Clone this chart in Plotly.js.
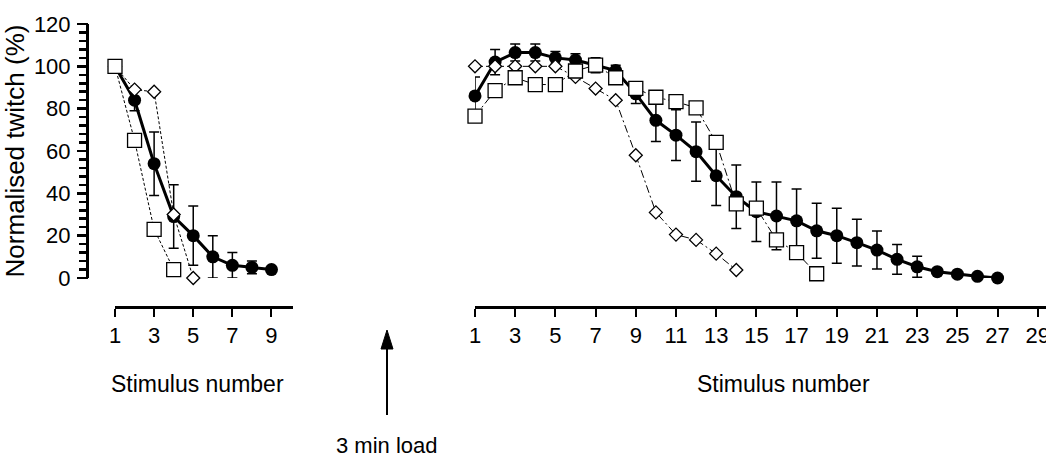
<!DOCTYPE html>
<html>
<head>
<meta charset="utf-8">
<script src="https://cdn.plot.ly/plotly-3.0.1.min.js"></script>
<style>html,body{margin:0;padding:0;background:#fff;}#chart{width:1046px;height:458px;}</style>
</head>
<body>
<div id="chart"></div>
<script>
// ---- Data ----
const leftX = [1, 2, 3, 4, 5, 6, 7, 8, 9];
const leftMean = [100, 84, 54, 29, 20, 10, 6, 5, 4];
const leftErr = [0, 5, 15, 15, 14, 10, 6, 3, 0];
const leftSquareX = [1, 2, 3, 4];
const leftSquare = [100, 65, 23, 4];
const leftDiamondX = [1, 2, 3, 4, 5];
const leftDiamond = [100, 89, 88, 30, 0];

const rightX = [1,2,3,4,5,6,7,8,9,10,11,12,13,14,15,16,17,18,19,20,21,22,23,24,25,26,27];
const rightMean = [86, 102, 106.5, 106.5, 104, 103, 100.5, 98, 87, 74.5, 67.5, 59.7, 48.3, 38.4, 31.3, 29.3, 27, 22.3, 20, 16.7, 13.2, 8.8, 5.3, 3, 1.8, 0.8, 0];
const rightErr = [9, 6, 4, 4, 3, 3, 3.5, 2.5, 4.5, 10, 12, 14, 14, 15, 14, 16, 15, 13, 13, 11, 9, 7, 5, 0, 0, 0, 0];
const rightSquareX = [1,2,3,4,5,6,7,8,9,10,11,12,13,14,15,16,17,18];
const rightSquare = [76.5, 88.5, 94.6, 91.4, 91.4, 97.8, 100.6, 94.6, 89.6, 85.4, 83.3, 80.4, 64.1, 35, 33, 18, 12, 2];
const rightDiamondX = [1,2,3,4,5,6,7,8,9,10,11,12,13,14];
const rightDiamond = [100, 100, 100, 100, 100, 95, 89.5, 84, 58, 31, 20.5, 18, 11.5, 3.8];

const leftTicks = [1, 3, 5, 7, 9];
const rightTicks = [1,3,5,7,9,11,13,15,17,19,21,23,25,27,29];
const yMajorTicks = [0, 20, 40, 60, 80, 100, 120];
const yMinorTicks = [0,4,8,12,16,20,24,28,32,36,40,44,48,52,56,60,64,68,72,76,80,84,88,92,96,100,104,108,112,116,120];

const FONT = 'Liberation Sans, Arial, Helvetica, sans-serif';
const W = 1046, H = 458;
const px = v => v / W;
const py = v => (H - v) / H;

function meanTrace(x, y, err, xa) {
  return {x: x, y: y, xaxis: xa, yaxis: 'y', type: 'scatter', mode: 'lines+markers',
    line: {color: '#000', width: 3},
    marker: {symbol: 'circle', size: 13, color: '#000'},
    error_y: {type: 'data', array: err, visible: true, color: '#000', thickness: 1.5, width: 5},
    cliponaxis: false, showlegend: false, hoverinfo: 'x+y'};
}
function openTrace(x, y, xa, sym, size, dash) {
  return {x: x, y: y, xaxis: xa, yaxis: 'y', type: 'scatter', mode: 'lines+markers',
    line: {color: '#000', width: 1, dash: dash},
    marker: {symbol: sym, size: size, color: '#fff', line: {color: '#000', width: 1.3}},
    cliponaxis: false, showlegend: false, hoverinfo: 'x+y'};
}

const data = [
  {x: [], y: [], xaxis: 'x3', yaxis: 'y', type: 'scatter', mode: 'markers', showlegend: false, hoverinfo: 'skip'},
  {x: [], y: [], xaxis: 'x3', yaxis: 'y2', type: 'scatter', mode: 'markers', showlegend: false, hoverinfo: 'skip'},
  meanTrace(leftX, leftMean, leftErr, 'x'),
  openTrace(leftDiamondX, leftDiamond, 'x', 'diamond', 10, '3px,2px'),
  openTrace(leftSquareX, leftSquare, 'x', 'square', 14, '3px,2px'),
  meanTrace(rightX, rightMean, rightErr, 'x2'),
  openTrace(rightDiamondX, rightDiamond, 'x2', 'diamond', 10, '8px,3px,2px,3px'),
  openTrace(rightSquareX, rightSquare, 'x2', 'square', 14, '8px,3px,2px,3px')
];

const xCommon = {
  anchor: 'free', position: py(307), showgrid: false, zeroline: false,
  showline: true, linecolor: '#000', linewidth: 3,
  ticks: 'outside', ticklen: 8, tickwidth: 2, tickcolor: '#000',
  tickmode: 'array', tickfont: {family: FONT, size: 22, color: '#000'},
  ticklabeloverflow: 'allow', fixedrange: true
};

const layout = {
  width: W, height: H,
  margin: {l: 0, r: 0, t: 0, b: 0},
  paper_bgcolor: '#fff', plot_bgcolor: 'rgba(0,0,0,0)',
  font: {family: FONT, color: '#000'},
  showlegend: false,
  xaxis: Object.assign({}, xCommon, {domain: [px(115), px(293)], range: [1, 10.1],
    tickvals: leftTicks, ticktext: leftTicks.map(String)}),
  xaxis2: Object.assign({}, xCommon, {domain: [px(475), 1], range: [1, 29.41],
    tickvals: rightTicks, ticktext: rightTicks.map(String)}),
  // hidden carrier axis: fixes where the y axis line sits
  xaxis3: {domain: [px(89), px(100)], range: [0, 1], visible: false, anchor: 'y', fixedrange: true},
  yaxis: {
    anchor: 'x3', domain: [py(278), py(24)], range: [0, 120],
    showgrid: false, zeroline: false, showline: true, linecolor: '#000', linewidth: 3,
    ticks: 'outside', ticklen: 7, tickwidth: 2.5, tickcolor: '#000',
    tickmode: 'array', tickvals: yMinorTicks,
    ticktext: yMinorTicks.map(v => yMajorTicks.indexOf(v) >= 0 ? String(v) : ''),
    ticklabelstandoff: 4,
    tickfont: {family: FONT, size: 22, color: '#000'},
    title: {text: 'Normalised twitch (%)', font: {family: FONT, size: 26, color: '#000'}, standoff: 6},
    fixedrange: true
  },
  // longer major ticks
  yaxis2: {
    overlaying: 'y', anchor: 'x3', side: 'left', range: [0, 120],
    showgrid: false, zeroline: false, showline: false,
    ticks: 'outside', ticklen: 11, tickwidth: 2.5, tickcolor: '#000',
    tickmode: 'array', tickvals: yMajorTicks, showticklabels: false, fixedrange: true
  },
  shapes: [
    {type: 'line', xref: 'paper', yref: 'paper', x0: px(387), x1: px(387), y0: py(415), y1: py(346),
      line: {color: '#000', width: 2}},
    {type: 'path', xref: 'paper', yref: 'paper',
      path: 'M ' + px(387) + ' ' + py(330) + ' L ' + px(381) + ' ' + py(349) + ' L ' + px(393) + ' ' + py(349) + ' Z',
      fillcolor: '#000', line: {color: '#000', width: 1}}
  ],
  annotations: [
    {xref: 'paper', yref: 'paper', x: px(197), y: py(384), xanchor: 'center', yanchor: 'middle',
      text: 'Stimulus number', showarrow: false, font: {family: FONT, size: 23, color: '#000'}},
    {xref: 'paper', yref: 'paper', x: px(783), y: py(384), xanchor: 'center', yanchor: 'middle',
      text: 'Stimulus number', showarrow: false, font: {family: FONT, size: 23, color: '#000'}},
    {xref: 'paper', yref: 'paper', x: px(387), y: py(445), xanchor: 'center', yanchor: 'middle',
      text: '3 min load', showarrow: false, font: {family: FONT, size: 22, color: '#000'}}
  ]
};

Plotly.newPlot('chart', data, layout, {displayModeBar: false, staticPlot: true});
</script>
</body>
</html>
